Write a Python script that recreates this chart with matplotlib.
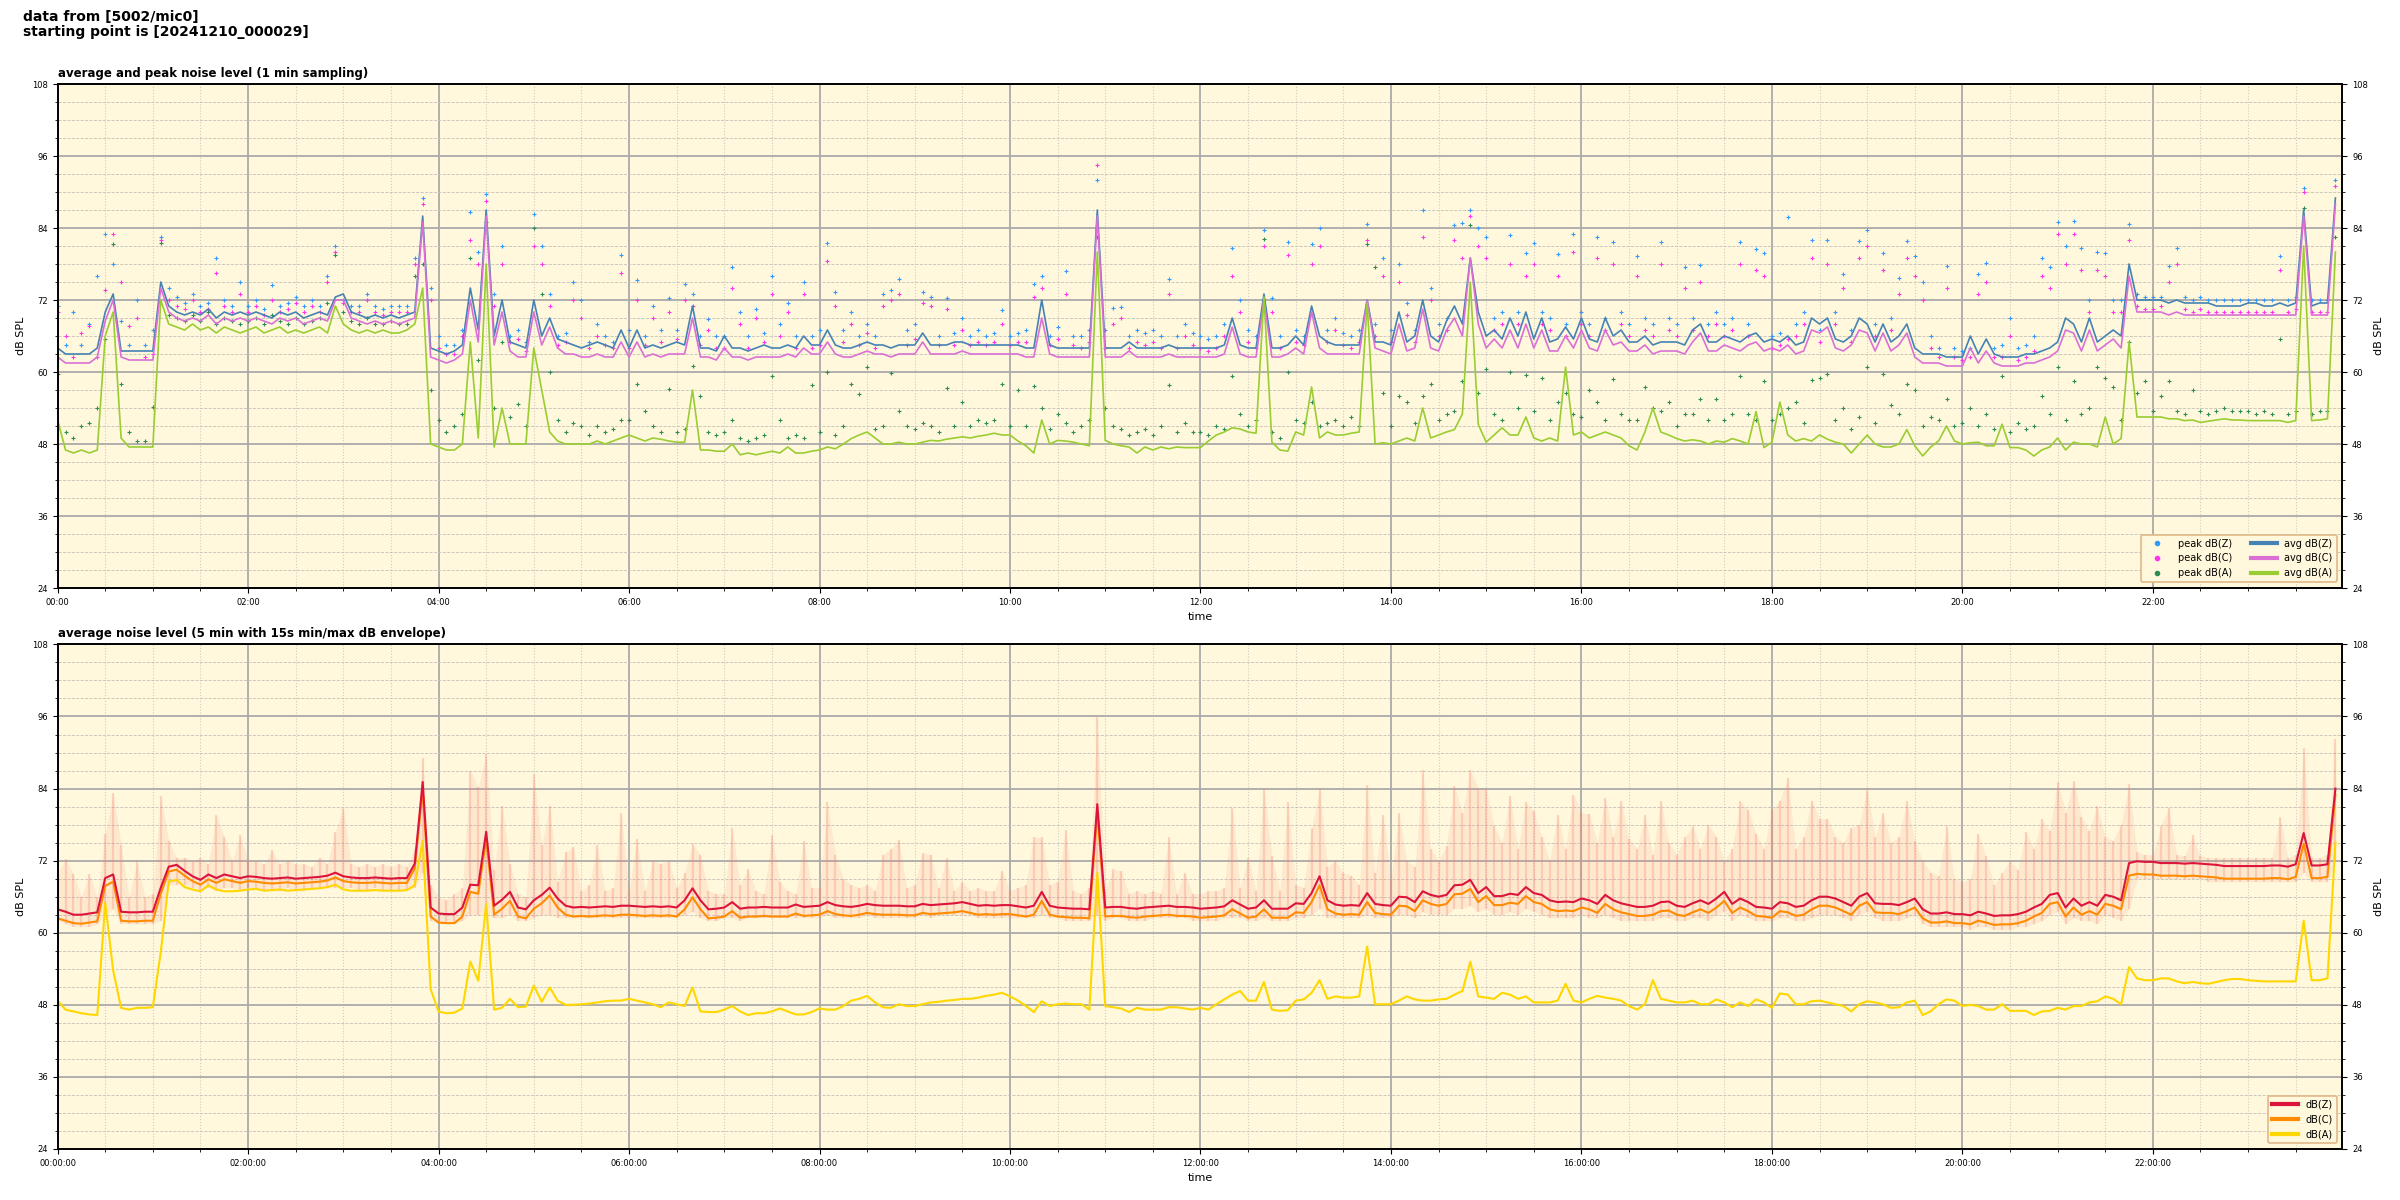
## noise level plot (1 min avg/peak + 5 min avg with envelope)

import numpy as np
import matplotlib
matplotlib.use("Agg")
import matplotlib.pyplot as plt
from matplotlib.lines import Line2D
from matplotlib.ticker import MultipleLocator, FuncFormatter

plt.rcParams.update({
    'font.family'     : 'DejaVu Sans',
    'xtick.labelsize' : 6,
    'ytick.labelsize' : 6,
    'axes.linewidth'  : 1.2,
})

source = "5002/mic0"
start = "20241210_000029"

## top panel, one value per 5 min, one row per hour
avg_z = [
    64, 63, 63, 63, 63, 64, 70, 73, 63.5, 63.5, 63.5, 63.5,
    63.5, 75, 71, 70, 69.5, 70, 69.5, 70.5, 69, 70, 69.5, 70,
    69.5, 70, 69.5, 69, 70, 69.5, 70, 69, 69.5, 70, 69.5, 72.5,
    73, 70, 69.5, 69, 69.5, 69, 69.5, 69, 69.5, 70, 86, 64,
    63.5, 63, 63.5, 64.5, 74, 67, 87, 66, 72, 65, 64.5, 64,
    72, 66, 69, 65.5, 65, 64.5, 64, 64.5, 65, 64.5, 64, 67,
    64, 67, 64, 64.5, 64, 64.5, 65, 64.5, 71, 64, 64, 63.5,
    66, 64, 64, 63.5, 64, 64.5, 64, 64, 64.5, 64, 66, 64.5,
    64.5, 67, 64.5, 64, 64, 64.5, 65, 64.5, 64.5, 64, 64.5, 64.5,
    64.5, 66.5, 64.5, 64.5, 64.5, 65, 65, 64.5, 64.5, 64.5, 64.5, 64.5,
    64.5, 64.5, 64, 64, 72, 64.5, 64, 64, 64, 64, 64, 87,
    64, 64, 64, 65, 64, 64, 64, 64, 64.5, 64, 64, 64,
    64, 64, 64, 64.5, 69, 64.5, 64, 64, 73, 64, 64, 64.5,
    66, 64.5, 71, 66, 65, 64.5, 64.5, 64.5, 64.5, 72, 65, 65,
    64.5, 70, 65, 66, 72, 66, 65, 68.5, 71, 68, 79, 70,
    66, 67, 65.5, 69, 66, 70, 65.5, 69, 65, 65.5, 67.5, 65.5,
    69, 65.5, 65, 69, 66, 67, 65, 65, 66, 64.5, 65, 65,
    65, 64.5, 67, 68, 65, 65, 66, 65.5, 65, 66, 66.5, 65,
    65.5, 65, 66, 64.5, 65, 69, 68, 69, 65.5, 65, 66, 69,
    68, 65, 68, 65, 66, 68, 64, 63, 63, 63, 62.5, 62.5,
    62.5, 66, 63, 65.5, 63, 62.5, 62.5, 62.5, 63, 63, 63.5, 64,
    65, 69, 68, 65, 69, 65, 66, 67, 66, 78, 72, 72,
    72, 72, 71.5, 72, 71.5, 71.5, 71.5, 71.5, 71, 71, 71, 71,
    71.5, 71.5, 71, 71, 71.5, 71, 71.5, 87, 71, 71.5, 71.5, 89,
]
avg_c = [
    62.5, 61.5, 61.5, 61.5, 61.5, 62.5, 68.5, 72, 62.5, 62, 62, 62,
    62, 74, 70, 69, 68.5, 69, 68.5, 69.5, 68, 69, 68.5, 69,
    68.5, 69, 68.5, 68, 69, 68.5, 69, 68, 68.5, 69, 68.5, 72,
    72, 69, 68.5, 68, 68.5, 68, 68.5, 68, 68.5, 69, 85, 62.5,
    62, 61.5, 62, 63, 72, 65, 86, 64.5, 70, 63.5, 62.5, 62.5,
    70, 64.5, 67.5, 64, 63, 63, 62.5, 62.5, 63, 62.5, 62.5, 65,
    62.5, 65, 62.5, 63, 62.5, 63, 63, 63, 69, 62.5, 62.5, 62,
    64, 62.5, 62.5, 62, 62.5, 62.5, 62.5, 62.5, 63, 62.5, 64, 63,
    63, 65, 63, 62.5, 62.5, 63, 63.5, 63, 63, 62.5, 63, 63,
    63, 65, 63, 63, 63, 63, 63.5, 63, 63, 63, 63, 63,
    63, 63, 62.5, 62.5, 69, 63, 62.5, 62.5, 62.5, 62.5, 62.5, 86,
    62.5, 62.5, 62.5, 63.5, 62.5, 62.5, 62.5, 62.5, 63, 62.5, 62.5, 62.5,
    62.5, 62.5, 62.5, 63, 67.5, 63, 62.5, 62.5, 72, 62.5, 62.5, 63,
    64, 63, 70, 64, 63, 63, 63, 63, 63, 72, 64, 63.5,
    63, 68, 63.5, 64, 70.5, 64, 63.5, 67, 69, 66, 79, 68,
    64, 65.5, 64, 67, 64, 68, 64, 67, 63.5, 63.5, 66, 64,
    67, 64, 63.5, 67, 64.5, 65, 63.5, 63.5, 64.5, 63, 63.5, 63.5,
    63.5, 63, 65, 66.5, 63.5, 63.5, 64.5, 64, 63.5, 64.5, 65, 63.5,
    64, 63.5, 64.5, 63, 63.5, 67, 66.5, 67.5, 64, 63.5, 64.5, 67,
    66.5, 63.5, 66.5, 63.5, 64.5, 66.5, 62.5, 61.5, 61.5, 61.5, 61, 61,
    61, 64, 61.5, 63.5, 61.5, 61, 61, 61, 61.5, 61.5, 62, 62.5,
    63.5, 67, 66.5, 63.5, 67, 63.5, 64.5, 65.5, 64, 76, 70, 70,
    70, 70, 69.5, 70, 69.5, 69.5, 69.5, 69.5, 69.5, 69.5, 69.5, 69.5,
    69.5, 69.5, 69.5, 69.5, 69.5, 69.5, 69.5, 86, 69.5, 69.5, 69.5, 88,
]
avg_a = [
    52, 47, 46.5, 47, 46.5, 47, 66, 70, 49, 47.5, 47.5, 47.5,
    47.5, 72, 68, 67.5, 67, 68, 67, 67.5, 66.5, 67.5, 67, 66.5,
    67, 67.5, 66.5, 67, 67.5, 66.5, 67, 66.5, 67, 67.5, 66.5, 71,
    68, 67, 66.5, 67, 66.5, 67, 66.5, 66.5, 67, 68, 74, 48,
    47.5, 47, 47, 48, 65, 49, 78, 47.5, 54, 48, 48, 48,
    64, 57, 50, 48.5, 48, 48, 48, 48, 48.5, 48, 48.5, 49,
    49.5, 49, 48.5, 49, 48.8, 48.5, 48.3, 48.3, 57, 47, 47, 46.8,
    46.8, 48, 46.2, 46.5, 46.2, 46.5, 46.8, 46.5, 47.5, 46.5, 46.5, 46.8,
    47, 47.5, 47.2, 48, 48.9, 49.5, 50, 49, 48, 48, 48.3, 48,
    48, 48.3, 48.6, 48.5, 48.8, 49, 49.2, 49, 49.3, 49.5, 49.8, 49.5,
    49.5, 48.5, 47.7, 46.5, 52, 48, 48.6, 48.5, 48.3, 48, 47.7, 80,
    48.6, 48, 47.7, 47.5, 46.5, 47.5, 47, 47.5, 47.2, 47.5, 47.4, 47.4,
    47.4, 48.5, 49.5, 50, 50.7, 50.5, 50, 49.8, 72.5, 48.3, 47, 46.8,
    50, 49.5, 57.5, 49, 50, 49.5, 49.5, 49.8, 50, 71.5, 48, 48.2,
    48, 48.5, 49, 48.5, 54, 49, 49.5, 50, 50.4, 53, 75, 51.3,
    48.3, 49.5, 50.7, 49.5, 49.5, 52.5, 49, 48.5, 49, 48.5, 60.8, 49.5,
    50, 49, 49.5, 50, 49.5, 49, 47.7, 47, 50, 54, 50, 49.5,
    48.9, 48.5, 48.7, 48.5, 48, 48.5, 48.3, 48.9, 48.5, 48, 53.4, 47.4,
    48.3, 55, 49.5, 48.5, 48.9, 48.5, 49.5, 48.8, 48.3, 48, 46.5, 48,
    49.5, 48, 47.5, 47.5, 48, 50.4, 47.7, 46, 47.5, 48.5, 51, 48.5,
    48, 48.2, 48.3, 47.7, 47.7, 51.3, 47.4, 47.4, 47, 46, 47, 47.5,
    49, 47, 48.3, 48, 48, 47.5, 52.5, 48, 48.9, 65, 52.5, 52.5,
    52.5, 52.5, 52.2, 52.2, 51.9, 52, 51.6, 51.8, 52, 52.2, 52, 52,
    51.9, 51.9, 51.9, 51.9, 51.9, 51.6, 51.9, 81, 51.9, 52, 52.2, 80,
]
peak_z = [
    71, 64.5, 70, 64.5, 68, 76, 83, 78, 68.5, 64.5, 72, 64.5,
    67, 82.5, 74, 72.5, 71.5, 73, 71, 71.5, 79, 72, 71, 75,
    71, 72, 70.5, 74.5, 71, 71.5, 72.5, 71, 72, 71, 76, 81,
    72, 71, 71, 73, 71, 70.5, 71, 71, 71, 79, 89, 74,
    66, 64.5, 64.5, 67, 86.7, 80, 89.7, 73, 81, 66, 67, 65,
    86.3, 81, 73, 66, 66.5, 75, 72, 65, 68, 66, 65, 79.5,
    67, 75.4, 66, 71, 67, 72.4, 67, 74.6, 73, 66, 68.8, 66,
    66, 77.5, 70, 66, 70.5, 66.5, 76, 68, 71.5, 66, 75, 66,
    67, 81.5, 73.3, 67, 70, 66, 68, 66, 73, 73.6, 75.5, 67,
    68, 73.3, 72.5, 66, 72.4, 66.5, 69, 66, 67, 66, 66.5, 70.3,
    66, 66.5, 67, 74.7, 76, 66, 67.5, 76.9, 66, 66, 67, 92,
    67, 70.6, 70.8, 66, 67, 66.5, 67, 66, 75.5, 66, 68, 66.5,
    66, 65.5, 66, 68, 80.7, 72, 67, 66, 83.7, 72.3, 66, 81.7,
    67, 66, 81.3, 84, 67, 69, 66.5, 66, 67, 84.6, 68, 79,
    67, 78, 71.5, 67, 87, 74, 68, 69, 84.5, 84.8, 87, 84,
    82.5, 69, 70, 82.8, 70, 79.8, 81.5, 70, 69, 79.7, 68, 83,
    70, 68, 82.5, 69, 81.6, 70, 68, 79.4, 69, 68, 81.7, 69,
    68, 77.5, 69, 77.8, 68, 70, 68, 69, 81.7, 68, 80.5, 79.8,
    66, 66.5, 85.8, 68, 70, 82, 67, 82, 70, 76.3, 67, 81.8,
    83.7, 68, 79.8, 69, 75.6, 81.8, 79.3, 75, 66, 64, 77.6, 64,
    63.5, 64, 76.3, 78.2, 64, 64.5, 69, 64, 64.5, 66, 79, 77.5,
    85, 81, 85.2, 80.7, 72, 80, 79.8, 72, 72, 84.6, 73, 72.5,
    72.5, 72.5, 77.6, 80.7, 72.5, 72, 72.5, 72, 72, 72, 72, 72,
    72, 72, 72, 72, 79.4, 72, 72.5, 90.7, 72, 72, 72, 92,
]
peak_c = [
    70, 66, 62.5, 66.5, 67.7, 62.5, 73.6, 83, 75, 67.7, 69, 62.5,
    63, 82, 72, 71, 70.5, 72, 70, 70.5, 76.5, 71, 70, 73,
    70, 71, 69.5, 72, 70, 70.5, 71.5, 70, 71, 70, 75, 80,
    71.5, 70, 70, 72, 70, 69.5, 70, 70, 70, 78, 88, 72,
    64, 63, 63, 66, 82, 78, 88.5, 71, 78, 65, 65.5, 63.5,
    81, 78, 71, 64.5, 65, 72, 69, 64, 66, 64.5, 64, 76.5,
    64, 72, 64.5, 69, 65, 70, 65.5, 72, 71, 64.5, 67, 64,
    64, 74, 68, 64, 69, 65, 73, 66, 70, 64, 73, 64,
    64.5, 78.5, 71, 65, 68, 64.5, 66.5, 64, 71, 72, 73, 64.5,
    65.5, 71.5, 71, 64.5, 70.5, 64.5, 67, 64.5, 65, 64.5, 65, 68,
    64.5, 65, 65, 72.5, 74, 64.5, 65.5, 73, 64.5, 64, 65, 94.5,
    64, 68, 69, 64, 65, 64.5, 65, 64, 73, 64, 66, 64.5,
    64, 63.5, 64, 66, 76, 70, 65, 64, 81, 70, 64, 79.5,
    65, 64.5, 78, 81, 65, 67, 64.5, 64, 65, 82, 66, 76,
    65, 75, 69.5, 65, 82.5, 72, 66, 67, 82, 79, 86, 81,
    79, 67, 68, 78, 68, 76, 78, 68, 67, 76, 66, 80,
    68, 66, 79, 67, 78, 68, 66, 76, 67, 66, 78, 67,
    66, 74, 67, 75, 66, 68, 66, 67, 78, 66, 77, 76,
    64, 64.5, 65.5, 66, 68, 79, 65, 78, 68, 74, 65, 79,
    81, 66, 77, 67, 73, 79, 76, 72, 64, 62.5, 74, 62.5,
    62, 62.5, 73, 75, 62.5, 62.5, 66, 62, 62.5, 63.5, 76, 74,
    83, 78, 83, 77, 70, 77, 76, 70, 70, 82, 71, 70.5,
    70.5, 71, 75, 78, 70.5, 70, 70.5, 70, 70, 70, 70, 70,
    70, 70, 70, 70, 77, 70, 70.5, 90, 70, 70, 70, 91,
]
peak_a = [
    59.6, 50, 49, 51, 51.5, 54, 65.5, 81.3, 58, 50, 48.5, 48.5,
    54.2, 81.5, 69.5, 69, 68.5, 69.5, 68.5, 70, 68, 69, 68.5, 68,
    68.5, 69, 68, 69.5, 68.5, 68, 69, 68, 68.5, 69, 71.5, 79.5,
    70, 68.5, 68, 69, 68, 68, 68.5, 68, 68, 76, 78, 57,
    52, 50, 51, 53, 79, 62, 85, 54, 65, 52.5, 54.7, 51,
    84, 73, 60, 52, 50, 51.5, 51, 49.5, 51, 50, 50.5, 52,
    52, 58, 53.5, 51, 50, 57.2, 50, 50.5, 61, 56, 50, 49.5,
    50, 52, 49, 48.5, 49, 49.5, 59.3, 52, 49, 49.5, 49, 57.8,
    50, 60, 49.5, 51, 58, 56.3, 60.8, 50.5, 51, 59.8, 53.5, 51,
    50.5, 51.5, 51, 50, 57.3, 51, 55, 51, 52, 51.5, 52, 58,
    51, 57, 51, 57.7, 54, 50.5, 53, 51.5, 50, 51, 52, 82.5,
    54, 51, 50.5, 49.5, 50, 50.5, 49.5, 51, 57.8, 50, 51.5, 50,
    50, 49.5, 51, 50.5, 59.4, 53, 51, 52, 82.2, 50, 49, 60,
    52, 51.5, 55, 51, 51.5, 52, 51, 52.5, 51, 81.3, 77.5, 56.5,
    51, 56, 55, 51.5, 56, 58, 52, 53, 53.5, 58.5, 84.5, 56.5,
    60.5, 53, 52, 60, 54, 59.5, 53.5, 59, 52, 55, 56.5, 53,
    52.5, 57, 55, 52, 58.8, 53, 52, 52, 57.5, 54, 53.5, 55,
    51, 53, 53, 55.5, 52, 55.5, 52, 53, 59.4, 53, 52, 58.5,
    52, 53, 54, 55, 51.5, 58.7, 59, 59.6, 52, 54, 50.5, 52.5,
    60.8, 51.5, 59.6, 54.5, 53, 58, 57, 51, 52.5, 52, 55.5, 51,
    51.5, 54, 51, 53, 50.5, 59.3, 50, 51.5, 50.5, 51, 56, 53,
    60.8, 52, 58.5, 53, 54, 60.8, 59, 57.5, 52, 65, 56.5, 58.5,
    53.5, 56, 58.5, 53.5, 53, 57, 53.5, 53, 53.5, 54, 53.5, 53.5,
    53.5, 53, 53.5, 53, 65.5, 53, 53.5, 87.3, 53, 53.5, 53.5, 82.5,
]

## bottom panel, 5 min averages and 15s min/max envelope
db_z = [
    63.9, 63.5, 63.0, 63.0, 63.2, 63.4, 69.1, 69.7, 63.5, 63.4, 63.4, 63.5,
    63.5, 67.5, 71.0, 71.3, 70.3, 69.4, 68.8, 69.7, 69.1, 69.7, 69.4, 69.1,
    69.4, 69.3, 69.1, 69.0, 69.1, 69.2, 69.0, 69.1, 69.2, 69.3, 69.5, 70.0,
    69.4, 69.2, 69.1, 69.1, 69.2, 69.1, 69.0, 69.1, 69.1, 71.5, 85.1, 64.2,
    63.2, 63.1, 63.1, 64.2, 68.0, 67.9, 76.8, 64.5, 65.5, 66.8, 64.2, 63.9,
    65.4, 66.3, 67.5, 65.7, 64.5, 64.2, 64.3, 64.2, 64.3, 64.4, 64.3, 64.5,
    64.5, 64.4, 64.3, 64.4, 64.3, 64.4, 64.2, 65.4, 67.4, 65.4, 63.9, 64.0,
    64.2, 65.1, 64.0, 64.2, 64.2, 64.3, 64.2, 64.2, 64.2, 64.7, 64.3, 64.4,
    64.5, 65.1, 64.6, 64.4, 64.3, 64.5, 64.8, 64.6, 64.5, 64.5, 64.5, 64.4,
    64.4, 64.8, 64.6, 64.7, 64.8, 64.9, 65.1, 64.8, 64.5, 64.6, 64.5, 64.6,
    64.6, 64.4, 64.2, 64.5, 66.8, 64.5, 64.2, 64.1, 64.0, 64.0, 63.9, 81.4,
    64.2, 64.3, 64.3, 64.1, 64.0, 64.2, 64.3, 64.4, 64.5, 64.3, 64.3, 64.2,
    64.0, 64.1, 64.2, 64.4, 65.4, 64.7, 64.0, 64.2, 65.4, 64.0, 64.0, 64.0,
    64.9, 64.8, 66.6, 69.4, 65.4, 64.7, 64.5, 64.6, 64.5, 66.6, 64.8, 64.6,
    64.5, 66.0, 65.9, 65.1, 66.9, 66.3, 66.0, 66.3, 67.9, 68.0, 68.8, 66.6,
    67.6, 66.1, 66.1, 66.5, 66.3, 67.6, 66.6, 66.3, 65.4, 65.1, 65.2, 65.1,
    65.7, 65.4, 64.8, 66.3, 65.4, 64.9, 64.6, 64.3, 64.3, 64.5, 65.1, 65.2,
    64.5, 64.3, 64.9, 65.4, 64.8, 65.7, 66.8, 64.8, 65.7, 65.1, 64.3, 64.2,
    64.0, 65.1, 64.9, 64.3, 64.5, 65.4, 66.0, 66.0, 65.7, 65.1, 64.5, 66.0,
    66.6, 64.9, 64.8, 64.8, 64.6, 65.1, 65.7, 63.9, 63.2, 63.2, 63.4, 63.1,
    63.1, 62.9, 63.5, 63.2, 62.8, 62.9, 62.9, 63.1, 63.5, 64.2, 64.8, 66.3,
    66.6, 64.2, 65.7, 64.5, 65.1, 64.5, 66.3, 66.0, 65.4, 71.6, 71.9, 71.8,
    71.8, 71.6, 71.6, 71.6, 71.5, 71.6, 71.5, 71.4, 71.3, 71.1, 71.1, 71.1,
    71.1, 71.1, 71.1, 71.2, 71.2, 71.0, 71.4, 76.6, 71.2, 71.2, 71.4, 84.0,
]
db_c = [
    62.4, 62.0, 61.6, 61.5, 61.7, 61.9, 67.8, 68.5, 62.0, 61.9, 61.9, 62.0,
    62.0, 66.5, 70.2, 70.5, 69.5, 68.6, 68.0, 68.9, 68.3, 68.9, 68.6, 68.3,
    68.6, 68.5, 68.3, 68.2, 68.3, 68.4, 68.2, 68.3, 68.4, 68.5, 68.7, 69.2,
    68.6, 68.4, 68.3, 68.3, 68.4, 68.3, 68.2, 68.3, 68.3, 70.7, 83.8, 62.7,
    61.7, 61.6, 61.6, 62.7, 66.8, 66.5, 75.7, 63.0, 64.0, 65.3, 62.7, 62.4,
    64.0, 64.9, 66.2, 64.2, 63.0, 62.7, 62.8, 62.7, 62.8, 62.9, 62.8, 63.0,
    63.0, 62.9, 62.8, 62.9, 62.8, 62.9, 62.7, 63.9, 65.9, 63.9, 62.4, 62.5,
    62.7, 63.6, 62.5, 62.7, 62.7, 62.8, 62.7, 62.7, 62.7, 63.2, 62.8, 62.9,
    63.0, 63.6, 63.1, 62.9, 62.8, 63.0, 63.3, 63.1, 63.0, 63.0, 63.0, 62.9,
    62.9, 63.3, 63.1, 63.2, 63.3, 63.4, 63.6, 63.3, 63.0, 63.1, 63.0, 63.1,
    63.1, 62.9, 62.7, 63.0, 65.3, 63.0, 62.7, 62.6, 62.5, 62.5, 62.4, 80.2,
    62.7, 62.8, 62.8, 62.6, 62.5, 62.7, 62.8, 62.9, 63.0, 62.8, 62.8, 62.7,
    62.5, 62.6, 62.7, 62.9, 63.9, 63.2, 62.5, 62.7, 63.9, 62.5, 62.5, 62.5,
    63.4, 63.3, 65.1, 67.9, 63.9, 63.2, 63.0, 63.1, 63.0, 65.1, 63.3, 63.1,
    63.0, 64.5, 64.4, 63.6, 65.4, 64.8, 64.5, 64.8, 66.4, 66.5, 67.3, 65.1,
    66.1, 64.6, 64.6, 65.0, 64.8, 66.1, 65.1, 64.8, 63.9, 63.6, 63.7, 63.6,
    64.2, 63.9, 63.3, 64.8, 63.9, 63.4, 63.1, 62.8, 62.8, 63.0, 63.6, 63.7,
    63.0, 62.8, 63.4, 63.9, 63.3, 64.2, 65.3, 63.3, 64.2, 63.6, 62.8, 62.7,
    62.5, 63.6, 63.4, 62.8, 63.0, 63.9, 64.5, 64.5, 64.2, 63.6, 63.0, 64.5,
    65.1, 63.4, 63.3, 63.3, 63.1, 63.6, 64.2, 62.4, 61.7, 61.7, 61.9, 61.6,
    61.6, 61.4, 62.0, 61.7, 61.3, 61.4, 61.4, 61.6, 62.0, 62.7, 63.3, 64.8,
    65.1, 62.7, 64.2, 63.0, 63.6, 63.0, 64.8, 64.5, 63.9, 69.5, 69.8, 69.7,
    69.7, 69.5, 69.5, 69.5, 69.4, 69.5, 69.4, 69.3, 69.2, 69.0, 69.0, 69.0,
    69.0, 69.0, 69.0, 69.1, 69.1, 68.9, 69.3, 74.8, 69.1, 69.1, 69.3, 83.0,
]
db_a = [
    48.7, 47.2, 46.9, 46.6, 46.4, 46.3, 65.0, 53.7, 47.5, 47.2, 47.5, 47.5,
    47.6, 56.8, 68.5, 68.8, 67.6, 67.2, 66.9, 67.9, 67.2, 66.9, 66.9, 67.0,
    67.2, 67.3, 67.0, 67.1, 67.2, 67.0, 67.1, 67.2, 67.3, 67.4, 67.6, 68.0,
    67.2, 67.0, 67.0, 67.0, 67.1, 67.0, 67.0, 67.0, 67.1, 67.9, 75.3, 50.6,
    46.9, 46.6, 46.7, 47.4, 55.2, 52.0, 64.8, 47.2, 47.5, 49.0, 47.6, 47.7,
    51.2, 48.5, 50.9, 48.7, 48.0, 48.0, 48.1, 48.2, 48.4, 48.6, 48.7, 48.7,
    49.0, 48.7, 48.4, 48.1, 47.6, 48.4, 48.1, 47.8, 50.9, 46.9, 46.8, 46.8,
    47.2, 47.8, 46.9, 46.3, 46.6, 46.6, 46.9, 47.4, 46.9, 46.4, 46.4, 46.8,
    47.4, 47.2, 47.2, 47.8, 48.7, 49.0, 49.5, 48.4, 47.6, 47.5, 48.1, 47.8,
    47.8, 48.1, 48.4, 48.5, 48.7, 48.8, 49.0, 49.0, 49.2, 49.5, 49.7, 50.0,
    49.4, 48.7, 47.8, 46.8, 48.6, 47.8, 48.1, 48.2, 48.1, 48.1, 47.2, 70.0,
    47.8, 47.6, 47.4, 46.8, 47.5, 47.2, 47.2, 47.2, 47.6, 47.6, 47.4, 47.2,
    47.5, 47.2, 48.1, 48.9, 49.7, 50.3, 48.7, 48.7, 51.8, 47.2, 47.0, 47.1,
    48.7, 48.9, 50.0, 52.1, 49.0, 49.4, 49.2, 49.2, 49.4, 57.7, 48.1, 48.1,
    48.1, 48.7, 49.4, 48.9, 48.7, 48.7, 48.9, 49.0, 49.7, 50.3, 55.2, 49.4,
    49.2, 49.0, 50.0, 49.7, 49.0, 49.4, 48.4, 48.4, 48.4, 48.7, 51.5, 48.7,
    48.4, 49.0, 49.5, 49.2, 49.0, 48.7, 47.8, 47.2, 48.1, 52.1, 49.0, 48.7,
    48.4, 48.4, 48.7, 48.1, 48.1, 48.9, 48.4, 47.6, 48.4, 47.8, 48.9, 48.4,
    47.5, 49.9, 49.7, 48.1, 48.1, 48.6, 48.7, 48.4, 48.1, 47.8, 46.9, 48.1,
    48.6, 48.4, 48.1, 47.5, 47.6, 48.4, 48.7, 46.3, 46.9, 48.1, 48.9, 48.7,
    47.8, 48.0, 47.8, 47.2, 47.2, 48.1, 47.0, 47.0, 47.0, 46.3, 46.9, 47.0,
    47.5, 47.2, 47.8, 47.8, 48.4, 48.6, 49.4, 49.0, 48.1, 54.3, 52.4, 52.1,
    52.1, 52.4, 52.4, 51.9, 51.6, 51.8, 51.6, 51.5, 51.8, 52.1, 52.3, 52.3,
    52.1, 52.0, 51.9, 51.9, 51.9, 51.9, 51.9, 62.0, 52.1, 52.1, 52.4, 75.0,
]
env_max = [
    70.0, 72.3, 69.8, 66.0, 69.8, 66.0, 76.5, 83.2, 74.6, 66.0, 71.9, 66.0,
    66.5, 82.7, 75.3, 72.5, 72.5, 72.0, 72.5, 71.5, 79.6, 75.9, 72.0, 76.2,
    72.2, 72.0, 71.5, 73.7, 71.5, 72.0, 71.5, 71.5, 71.0, 72.5, 71.5, 76.8,
    80.8, 71.5, 71.0, 71.5, 71.0, 71.5, 71.0, 71.5, 71.0, 74.0, 89.1, 68.0,
    66.0, 65.5, 66.5, 67.5, 87.0, 84.2, 89.8, 70.5, 81.1, 71.5, 66.5, 66.0,
    86.4, 74.6, 81.1, 68.5, 73.4, 74.3, 67.0, 68.0, 74.6, 67.0, 67.5, 79.9,
    67.0, 75.6, 67.0, 72.0, 71.5, 72.0, 67.5, 70.0, 74.7, 73.0, 67.0, 66.5,
    66.5, 77.4, 68.0, 70.6, 67.0, 66.5, 76.2, 68.5, 67.0, 66.5, 75.3, 67.5,
    67.5, 81.7, 73.0, 69.0, 68.0, 67.5, 68.0, 67.0, 73.0, 74.0, 75.4, 67.5,
    68.0, 73.3, 73.0, 67.5, 72.5, 67.0, 68.5, 67.0, 67.5, 67.0, 67.0, 70.3,
    67.0, 67.5, 68.0, 75.9, 75.9, 68.0, 68.5, 77.1, 67.0, 66.5, 67.5, 95.9,
    67.0, 70.6, 70.3, 66.5, 67.0, 66.5, 67.0, 66.5, 75.9, 66.5, 70.0, 66.5,
    66.5, 67.0, 67.0, 67.5, 80.8, 67.5, 72.5, 67.0, 83.9, 72.8, 67.0, 81.7,
    68.0, 67.5, 77.4, 83.9, 71.0, 72.0, 70.0, 69.5, 68.0, 84.6, 70.0, 79.6,
    69.0, 79.9, 72.0, 71.0, 87.1, 74.0, 72.0, 74.5, 84.5, 80.0, 87.1, 84.0,
    84.0, 77.7, 75.0, 82.8, 74.0, 81.7, 80.2, 76.0, 72.0, 79.6, 74.0, 83.0,
    80.0, 79.8, 75.0, 82.5, 76.0, 82.0, 75.6, 74.0, 79.6, 73.0, 82.0, 75.0,
    73.0, 75.9, 77.7, 74.0, 78.0, 76.0, 72.0, 74.0, 81.9, 80.5, 76.5, 74.0,
    80.5, 82.0, 85.8, 74.0, 76.0, 82.0, 79.0, 79.0, 76.0, 75.0, 77.5, 78.0,
    83.9, 76.0, 79.9, 75.0, 76.0, 81.9, 75.3, 72.0, 70.0, 69.5, 77.7, 69.0,
    68.5, 69.0, 76.5, 72.7, 68.0, 70.0, 72.0, 70.5, 76.8, 74.0, 79.0, 77.0,
    85.1, 80.0, 85.3, 79.3, 77.0, 81.1, 76.0, 75.3, 78.0, 84.7, 73.5, 73.0,
    73.0, 77.7, 80.8, 73.0, 72.8, 76.2, 72.8, 72.5, 72.5, 72.5, 72.5, 72.5,
    72.5, 72.5, 72.5, 72.5, 79.3, 72.5, 73.0, 90.7, 72.5, 72.5, 73.0, 92.2,
]
env_min = [
    62, 61.5, 61, 61, 61, 61.5, 63, 64, 61.5, 61.5, 61.5, 61.5,
    61.5, 62, 68, 68, 68, 67.5, 67, 67.5, 67, 67.5, 67.5, 67,
    67.5, 67.5, 67, 67, 67, 67.5, 67, 67, 67.5, 67.5, 67.5, 67.5,
    67.5, 67.5, 67, 67, 67.5, 67, 67, 67, 67, 67.5, 70, 62,
    61.5, 61.5, 61.5, 62, 63, 63, 63, 62.5, 62.5, 63, 62, 62,
    62.5, 63, 63, 62.5, 62.5, 62.5, 62.5, 62.5, 62.5, 62.5, 62.5, 62.5,
    62.5, 62.5, 62.5, 62.5, 62.5, 62.5, 62.5, 63, 63.5, 62.5, 62, 62,
    62.5, 62.5, 62, 62.5, 62.5, 62.5, 62.5, 62.5, 62.5, 62.5, 62.5, 62.5,
    62.5, 63, 62.5, 62.5, 62.5, 62.5, 63, 62.5, 62.5, 62.5, 62.5, 62.5,
    62.5, 63, 62.5, 63, 63, 63, 63, 63, 62.5, 62.5, 62.5, 62.5,
    62.5, 62.5, 62.5, 62.5, 63, 62.5, 62.5, 62, 62, 62, 62, 63,
    62, 62.5, 62.5, 62, 62, 62, 62.5, 62.5, 62.5, 62.5, 62.5, 62,
    62, 62, 62, 62.5, 62.5, 62.5, 62, 62, 62.5, 62, 62, 62,
    62.5, 62.5, 63, 64, 62.5, 62.5, 62.5, 62.5, 62.5, 63, 62.5, 62.5,
    62.5, 63, 63, 62.5, 63.5, 63, 63, 63, 64, 64, 64.5, 63.5,
    64, 63, 63, 63.5, 63, 64, 63.5, 63, 62.5, 62.5, 62.5, 62.5,
    63, 62.5, 62.5, 63, 62.5, 62, 62, 62, 62, 62, 62.5, 62.5,
    62, 62, 62.5, 62.5, 62, 63, 63.5, 62, 63, 62.5, 62, 62,
    62, 62.5, 62.5, 62, 62, 62.5, 63, 63, 63, 62.5, 62, 63,
    63.5, 62.5, 62, 62, 62, 62.5, 63, 61.5, 61, 61, 61, 61,
    61, 60.5, 61, 61, 60.5, 60.5, 60.5, 61, 61, 61.5, 62, 63,
    63.5, 61.5, 62.5, 62, 62, 61.5, 63, 62.5, 62, 64, 69, 69,
    69, 69, 69, 69, 69, 69, 69, 68.5, 68.5, 68.5, 68.5, 68.5,
    68.5, 68.5, 68.5, 68.5, 68.5, 68.5, 68.5, 70, 68.5, 68.5, 68.5, 72,
]

y_ticks = [24, 36, 48, 60, 72, 84, 96, 108]
bg_color = "cornsilk"


def hhmm(x, pos):
    h = int(round(x * 60)) // 60
    m = int(round(x * 60)) % 60
    return "{:02d}:{:02d}".format(h, m)


def hhmmss(x, pos):
    return hhmm(x, pos) + ":00"


def setup_axes(ax, fmt, legend_handles, legend_labels, ncol):
    """common axis style for both panels"""
    ax.set_facecolor(bg_color)
    ax.set_xlim(0, 23.99)
    ax.set_ylim(24, 108)
    ax.set_yticks(y_ticks)
    ax.yaxis.set_minor_locator(MultipleLocator(3))
    ax.xaxis.set_major_locator(MultipleLocator(2))
    ax.xaxis.set_minor_locator(MultipleLocator(0.5))
    ax.xaxis.set_major_formatter(FuncFormatter(fmt))
    ax.grid(which="major", color="#aaaaaa", linewidth=1.3)
    ax.grid(which="minor", axis="y", color="#c4c0b8", linestyle="--", linewidth=0.6)
    ax.grid(which="minor", axis="x", color="#d0ccc0", linestyle=":", linewidth=0.8)
    ax.set_axisbelow(True)
    ax.tick_params(which="both", direction="out")
    ax.set_xlabel("time", fontsize=8)
    ax.set_ylabel("dB SPL", fontsize=8)
    ax2 = ax.twinx()
    ax2.set_ylim(24, 108)
    ax2.set_yticks(y_ticks)
    ax2.yaxis.set_minor_locator(MultipleLocator(3))
    ax2.tick_params(labelsize=6)
    ax2.set_ylabel("dB SPL", fontsize=8)
    leg = ax.legend(legend_handles, legend_labels, loc="lower right",
                    ncol=ncol, fontsize=7, facecolor=bg_color,
                    edgecolor="#e0b98a", framealpha=1, handlelength=2.6,
                    borderaxespad=0.6)
    leg.get_frame().set_linewidth(1.2)


def main():
    t = np.arange(len(avg_z)) * 5 / 60.0

    fig = plt.figure(figsize=(24, 12), dpi=100)
    fig.text(0.0096, 0.992, "data from [{}]\nstarting point is [{}]".format(source, start),
             va="top", ha="left", fontsize=10, fontweight="bold", linespacing=1.1)

    ## top panel
    ax1 = fig.add_axes([0.024, 0.51, 0.952, 0.42])
    ax1.plot(t, peak_z, "+", color="#3399ff", ms=3, mew=0.8)
    ax1.plot(t, peak_c, "+", color="#ff33ee", ms=3, mew=0.8)
    ax1.plot(t, peak_a, "+", color="#2e8b57", ms=3, mew=0.8)
    ax1.plot(t, avg_z, color="#4682b4", lw=1.2)
    ax1.plot(t, avg_c, color="#da70d6", lw=1.2)
    ax1.plot(t, avg_a, color="#9acd32", lw=1.2)
    ax1.set_title("average and peak noise level (1 min sampling)", loc="left",
                  fontsize=8.5, fontweight="bold", pad=5)
    handles = [
        Line2D([], [], ls="", marker="o", ms=3, color="#3399ff"),
        Line2D([], [], ls="", marker="o", ms=3, color="#ff33ee"),
        Line2D([], [], ls="", marker="o", ms=3, color="#2e8b57"),
        Line2D([], [], color="#4682b4", lw=3),
        Line2D([], [], color="#da70d6", lw=3),
        Line2D([], [], color="#9acd32", lw=3),
    ]
    labels = ["peak dB(Z)", "peak dB(C)", "peak dB(A)",
              "avg dB(Z)", "avg dB(C)", "avg dB(A)"]
    setup_axes(ax1, hhmm, handles, labels, 2)

    ## bottom panel, envelope drawn as a light band plus spikes
    ax2 = fig.add_axes([0.024, 0.0425, 0.952, 0.4205])
    ax2.fill_between(t, env_min, env_max, color="salmon", alpha=0.12, lw=0)
    ax2.vlines(t, env_min, env_max, color="salmon", alpha=0.3, lw=1.6)
    ax2.plot(t, db_a, color="#ffd700", lw=1.5)
    ax2.plot(t, db_c, color="#ff8c00", lw=1.5)
    ax2.plot(t, db_z, color="#dc143c", lw=1.5)
    ax2.set_title("average noise level (5 min with 15s min/max dB envelope)", loc="left",
                  fontsize=8.5, fontweight="bold", pad=5)
    handles = [
        Line2D([], [], color="#dc143c", lw=3),
        Line2D([], [], color="#ff8c00", lw=3),
        Line2D([], [], color="#ffd700", lw=3),
    ]
    setup_axes(ax2, hhmmss, handles, ["dB(Z)", "dB(C)", "dB(A)"], 1)

    fig.savefig("out.png", dpi=100)


if __name__ == "__main__":
    main()
